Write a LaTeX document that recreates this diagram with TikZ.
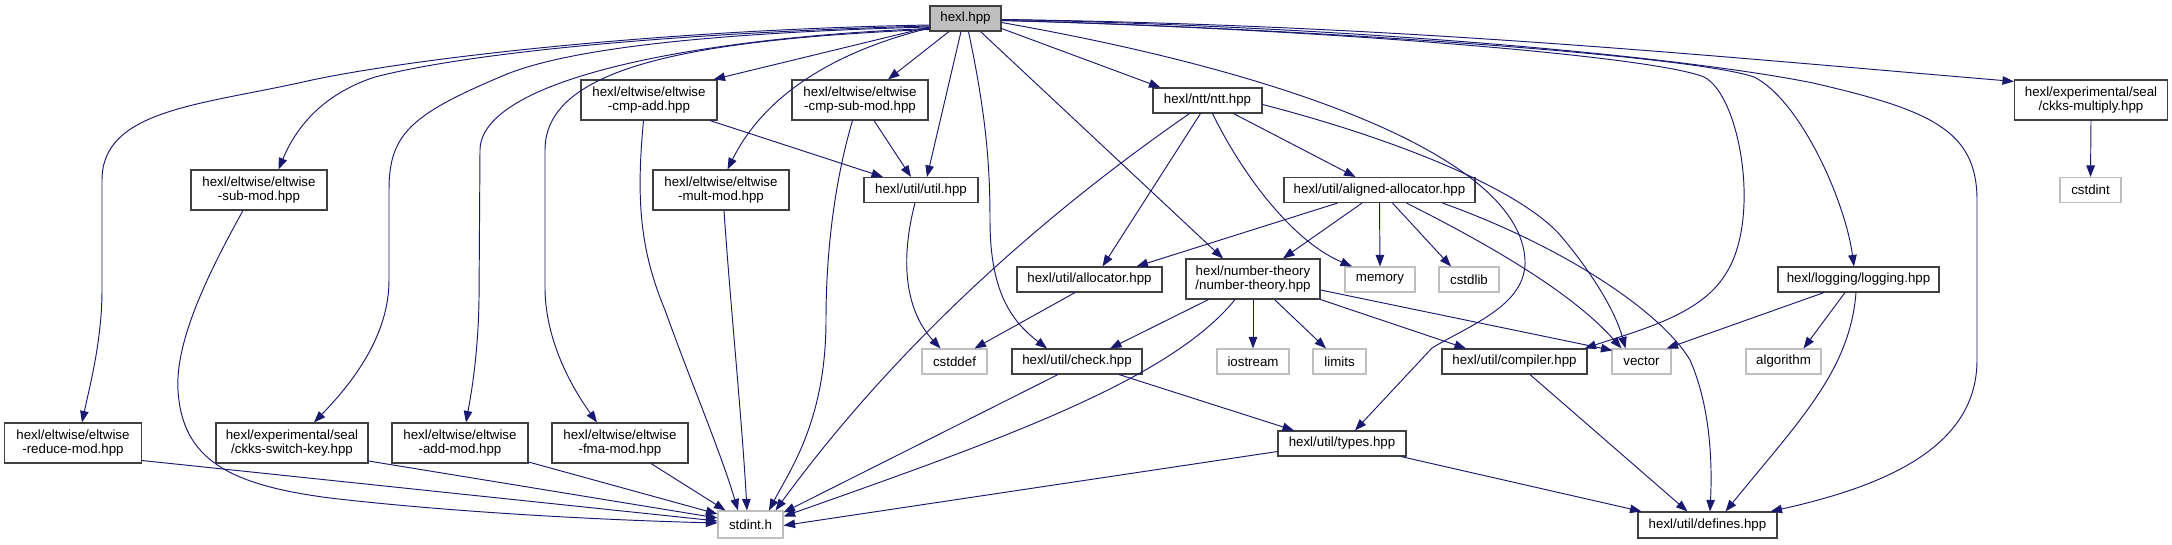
\documentclass[tikz,border=0pt]{standalone}
\usepackage{fontspec}
\setmainfont{Liberation Sans}
\usetikzlibrary{arrows.meta}
\definecolor{edgeblue}{HTML}{191970}
\definecolor{boxgray}{HTML}{404040}
\definecolor{extgray}{HTML}{BFBFBF}
\begin{document}
\begin{tikzpicture}[x=1pt,y=-1pt,
  every node/.style={font=\fontsize{13.3}{14.4}\selectfont, inner sep=0pt, align=center},
  box/.style={draw=boxgray, line width=1.1pt, fill=white, minimum height=25pt},
  boxtwo/.style={box, minimum height=40pt},
  ext/.style={draw=extgray, line width=1.1pt, fill=white, minimum height=25pt},
  dep/.style={draw=edgeblue, line width=0.95pt, -{Triangle[length=11.5pt,width=8.5pt]}}
]
\useasboundingbox (0,0) rectangle (2172,544);

% ---------- nodes ----------
\node[box, fill=extgray, minimum width=71pt] (hexl) at (965.5,18.5) {hexl.hpp};
\node[boxtwo, minimum width=136pt] (cmpadd) at (649,100) {hexl/eltwise/eltwise\\-cmp-add.hpp};
\node[boxtwo, minimum width=136pt] (cmpsub) at (860,100) {hexl/eltwise/eltwise\\-cmp-sub-mod.hpp};
\node[box, minimum width=109pt] (ntt) at (1207.5,100.5) {hexl/ntt/ntt.hpp};
\node[boxtwo, minimum width=153pt] (ckksmul) at (2091,100) {hexl/experimental/seal\\/ckks-multiply.hpp};
\node[boxtwo, minimum width=136pt] (submod) at (259,190) {hexl/eltwise/eltwise\\-sub-mod.hpp};
\node[boxtwo, minimum width=136pt] (multmod) at (721,190) {hexl/eltwise/eltwise\\-mult-mod.hpp};
\node[box, minimum width=114pt] (util) at (921,190) {hexl/util/util.hpp};
\node[box, minimum width=191pt] (aligned) at (1379.5,190) {hexl/util/aligned-allocator.hpp};
\node[ext, minimum width=61pt] (cstdint) at (2090.5,190) {cstdint};
\node[box, minimum width=145pt] (allocator) at (1089.5,279.5) {hexl/util/allocator.hpp};
\node[boxtwo, minimum width=134pt] (numth) at (1253,279) {hexl/number-theory\\/number-theory.hpp};
\node[ext, minimum width=70pt] (memory) at (1380,279.5) {memory};
\node[ext, minimum width=60pt] (cstdlib) at (1469,279.5) {cstdlib};
\node[box, minimum width=161pt] (logging) at (1858.5,279.5) {hexl/logging/logging.hpp};
\node[ext, minimum width=65pt] (cstddef) at (954.5,361.5) {cstddef};
\node[box, minimum width=130pt] (check) at (1077,361.5) {hexl/util/check.hpp};
\node[ext, minimum width=72pt] (iostream) at (1253,361.5) {iostream};
\node[ext, minimum width=53pt] (limits) at (1339.5,361.5) {limits};
\node[box, minimum width=145pt] (compiler) at (1514.5,361.5) {hexl/util/compiler.hpp};
\node[ext, minimum width=59pt] (vector) at (1641.5,361.5) {vector};
\node[ext, minimum width=75pt] (algorithm) at (1783.5,361.5) {algorithm};
\node[boxtwo, minimum width=137pt] (reduce) at (73,443) {hexl/eltwise/eltwise\\-reduce-mod.hpp};
\node[boxtwo, minimum width=152pt] (switchkey) at (292,443) {hexl/experimental/seal\\/ckks-switch-key.hpp};
\node[boxtwo, minimum width=136pt] (addmod) at (460,443) {hexl/eltwise/eltwise\\-add-mod.hpp};
\node[boxtwo, minimum width=136pt] (fma) at (620,443) {hexl/eltwise/eltwise\\-fma-mod.hpp};
\node[box, minimum width=128pt] (types) at (1342,443.5) {hexl/util/types.hpp};
\node[ext, minimum width=65pt, minimum height=27pt] (stdint) at (750.5,524.5) {stdint.h};
\node[box, minimum width=139pt, minimum height=26pt] (defines) at (1707.5,525) {hexl/util/defines.hpp};

% ---------- edges from hexl.hpp ----------
\draw[dep] ([yshift=-8.5pt]hexl.west) -- ([xshift=-4pt]cmpadd.north east);
\draw[dep] ([xshift=-16.5pt]hexl.south) -- ([xshift=28pt]cmpsub.north);
\draw[dep] ([xshift=-4.5pt]hexl.south) -- ([xshift=6pt]util.north);
\draw[dep] ([yshift=-9.5pt]hexl.west) .. controls (800,60) and (752,120) .. ([xshift=6.5pt]multmod.north);
\draw[dep] ([yshift=-11pt]hexl.west) .. controls (680,40) and (545,70) .. (545,150) -- (545,290) .. controls (546,340) and (570,385) .. ([xshift=-23pt]fma.north);
\draw[dep] ([yshift=-10pt]hexl.west) .. controls (690,38) and (481,80) .. (480,150) -- (479,300) .. controls (478,360) and (470,400) .. ([xshift=6pt]addmod.north);
\draw[dep] ([yshift=-8.5pt]hexl.west) .. controls (700,33) and (560,50) .. (500,77) .. controls (410,115) and (389,135) .. (389,190) -- (389,280) .. controls (389,330) and (360,375) .. ([xshift=22pt]switchkey.north);
\draw[dep] ([yshift=-7.5pt]hexl.west) .. controls (700,32) and (480,50) .. (375,77) .. controls (320,95) and (295,130) .. ([xshift=19.5pt]submod.north);
\draw[dep] ([yshift=-6.5pt]hexl.west) .. controls (650,30) and (400,60) .. (303,82) .. controls (200,105) and (102,110) .. (102,180) -- (102,290) .. controls (102,340) and (90,385) .. ([xshift=9pt]reduce.north);
\draw[dep] ([yshift=-10pt]hexl.east) -- ([xshift=-47pt]ntt.north);
\draw[dep] ([xshift=15pt]hexl.south) -- ([xshift=-30pt]numth.north);
\draw[dep] ([xshift=3pt]hexl.south) .. controls (985,110) and (990,160) .. (990,220) .. controls (990,290) and (1010,320) .. ([xshift=-30pt]check.north);
\draw[dep] ([yshift=-4pt]hexl.east) .. controls (1300,75) and (1520,160) .. (1525,260) .. controls (1527,305) and (1470,325) .. (1432,348) -- ([xshift=13pt]types.north);
\draw[dep] ([yshift=-2pt]hexl.east) .. controls (1300,28) and (1650,55) .. (1704,77) .. controls (1740,95) and (1762,220) .. (1725,275) .. controls (1700,315) and (1640,330) .. ([xshift=-3pt]compiler.north east);
\draw[dep] ([yshift=-2pt]hexl.east) .. controls (1300,28) and (1690,55) .. (1754,77) .. controls (1800,100) and (1845,200) .. ([xshift=-4.5pt]logging.north);
\draw[dep] ([yshift=-1pt]hexl.east) .. controls (1400,28) and (1700,60) .. (1813,83) .. controls (1930,110) and (1977,130) .. (1977,200) -- (1977,360) .. controls (1977,445) and (1890,485) .. ([xshift=-7pt]defines.north east);
\draw[dep] ([yshift=-1pt]hexl.east) .. controls (1400,25) and (1700,55) .. ([yshift=-2pt]ckksmul.north west);

% ---------- second level ----------
\draw[dep] ([xshift=61pt]cmpadd.south) -- ([xshift=-38pt]util.north);
\draw[dep] ([xshift=-5.5pt]cmpadd.south) .. controls (636,200) and (640,250) .. (665,310) .. controls (690,380) and (720,450) .. ([xshift=-12.5pt]stdint.north);
\draw[dep] ([xshift=14pt]cmpsub.south) -- ([xshift=-10pt]util.north);
\draw[dep] ([xshift=-7.5pt]cmpsub.south) .. controls (835,180) and (826,250) .. (826,320) .. controls (826,420) and (790,470) .. ([xshift=18.5pt]stdint.north);
\draw[dep] ([xshift=3pt]multmod.south) .. controls (730,300) and (742,420) .. ([xshift=-3.5pt]stdint.north);
\draw[dep] ([xshift=-16pt]submod.south) .. controls (210,270) and (175,340) .. (178,390) .. controls (182,460) and (230,485) .. (330,498) .. controls (450,512) and (600,520) .. ([yshift=1.5pt]stdint.west);
\draw[dep] ([yshift=-17.5pt]reduce.east) -- ([yshift=3.5pt]stdint.west);
\draw[dep] ([yshift=-18pt]switchkey.east) -- ([yshift=6.5pt]stdint.west);
\draw[dep] ([yshift=-19pt]addmod.east) -- ([yshift=10.5pt]stdint.west);
\draw[dep] ([xshift=31pt]fma.south) -- ([xshift=-25pt]stdint.north);
\draw[dep] ([xshift=-6pt]util.south) .. controls (900,260) and (905,310) .. ([xshift=-14pt]cstddef.north);

% ntt.hpp
\draw[dep] ([xshift=-18pt]ntt.south) .. controls (1050,210) and (900,340) .. ([xshift=25pt]stdint.north);
\draw[dep] ([xshift=-7pt]ntt.south) -- ([xshift=13pt]allocator.north);
\draw[dep] ([xshift=5pt]ntt.south) .. controls (1240,170) and (1290,240) .. ([xshift=-28pt]memory.north);
\draw[dep] ([xshift=26pt]ntt.south) -- ([xshift=-24pt]aligned.north);
\draw[dep] ([yshift=-4pt]ntt.east) .. controls (1400,140) and (1520,190) .. (1560,235) .. controls (1590,270) and (1615,310) .. ([xshift=-16pt]vector.north);

% aligned-allocator.hpp
\draw[dep] ([xshift=-42pt]aligned.south) -- ([xshift=47pt]allocator.north);
\draw[dep] ([xshift=-17.5pt]aligned.south) -- ([xshift=30pt]numth.north);
\draw[dep] (aligned.south) -- (memory.north);
\draw[dep] ([xshift=13pt]aligned.south) -- ([xshift=-18pt]cstdlib.north);
\draw[dep] ([xshift=27pt]aligned.south) .. controls (1480,240) and (1570,290) .. ([xshift=-20pt]vector.north);
\draw[dep] ([xshift=63pt]aligned.south) .. controls (1560,245) and (1660,310) .. (1690,360) .. controls (1712,410) and (1712,470) .. ([xshift=2.5pt]defines.north);

% allocator.hpp
\draw[dep] ([xshift=-14.5pt]allocator.south) -- ([xshift=20pt]cstddef.north);

% number-theory.hpp
\draw[dep] ([xshift=-44.5pt]numth.south) -- ([xshift=33pt]check.north);
\draw[dep] (numth.south) -- (iostream.north);
\draw[dep] ([xshift=21.5pt]numth.south) -- ([xshift=-13.5pt]limits.north);
\draw[dep] (numth.south east) -- ([xshift=-48.5pt]compiler.north);
\draw[dep] ([yshift=-11pt]numth.east) -- ([xshift=1pt,yshift=-2pt]vector.north west);
\draw[dep] ([xshift=-18pt]numth.south) .. controls (1170,380) and (1000,440) .. ([yshift=-6pt]stdint.north east);

% check.hpp
\draw[dep] ([xshift=-19pt]check.south) -- ([yshift=-2pt]stdint.north east);
\draw[dep] ([xshift=42pt]check.south) -- ([xshift=-48pt]types.north);

% types.hpp
\draw[dep] ([yshift=-8pt]types.west) -- ([yshift=-1pt]stdint.east);
\draw[dep] ([xshift=59pt]types.south) -- ([xshift=-66pt]defines.north);

% compiler.hpp, logging.hpp, ckks-multiply.hpp
\draw[dep] ([xshift=15.5pt]compiler.south) -- ([xshift=-20pt]defines.north);
\draw[dep] ([xshift=-34.5pt]logging.south) -- ([xshift=-5pt]vector.north east);
\draw[dep] ([xshift=-13.5pt]logging.south) -- ([xshift=20pt]algorithm.north);
\draw[dep] ([xshift=-2.5pt]logging.south) .. controls (1850,370) and (1800,420) .. ([xshift=18pt]defines.north);
\draw[dep] (ckksmul.south) -- (cstdint.north);
\end{tikzpicture}
\end{document}
